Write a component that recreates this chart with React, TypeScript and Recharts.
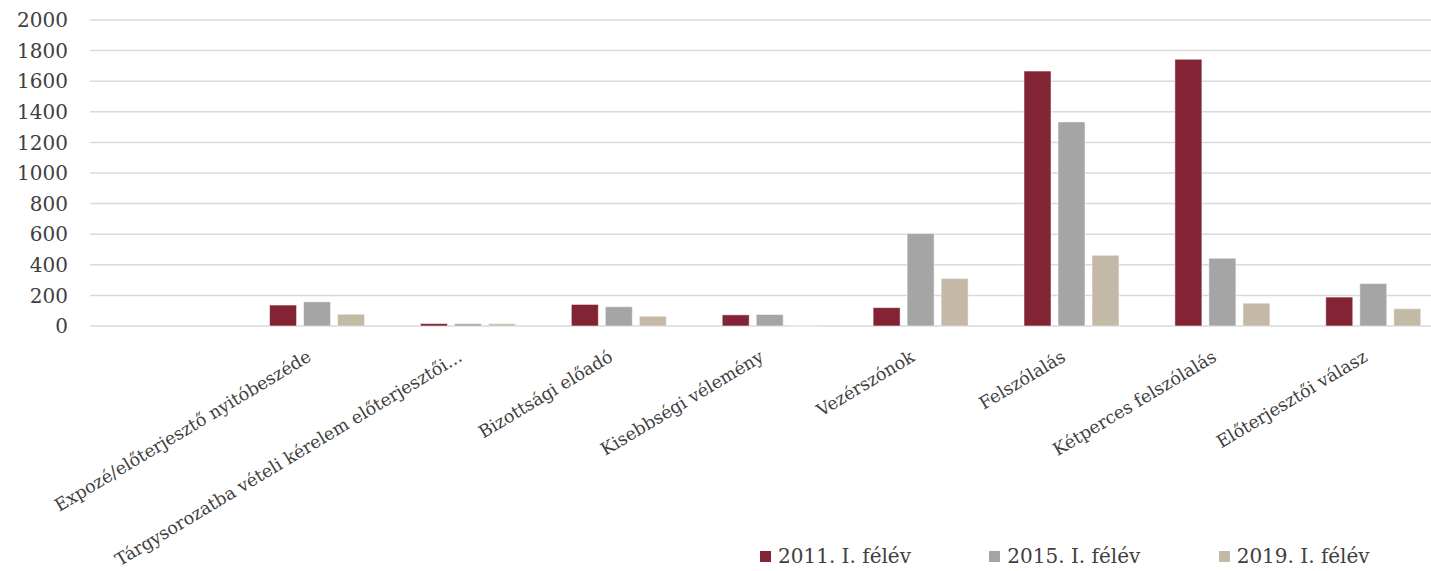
import { BarChart, Bar, XAxis, YAxis, CartesianGrid, Legend } from "recharts";

const categories = [
  "",
  "Expozé/előterjesztő nyitóbeszéde",
  "Tárgysorozatba vételi kérelem előterjesztői...",
  "Bizottsági előadó",
  "Kisebbségi vélemény",
  "Vezérszónok",
  "Felszólalás",
  "Kétperces felszólalás",
  "Előterjesztői válasz",
];
const s2011 = [null, 137, 16, 141, 73, 120, 1666, 1743, 189];
const s2015 = [null, 158, 15, 126, 75, 604, 1334, 443, 277];
const s2019 = [null, 77, 14, 64, 4, 310, 462, 149, 113];
const yTicks = [0, 200, 400, 600, 800, 1000, 1200, 1400, 1600, 1800, 2000];

const series = [
  { key: "a", name: "2011. I. félév", color: "#822433", values: s2011 },
  { key: "b", name: "2015. I. félév", color: "#a5a5a5", values: s2015 },
  { key: "c", name: "2019. I. félév", color: "#c4b8a7", values: s2019 },
];

const data = categories.map((cat, i) => ({
  cat,
  a: s2011[i],
  b: s2015[i],
  c: s2019[i],
}));

const FONT = "'DejaVu Serif', serif";
const TEXT = "#404040";

// rotated category labels, anchored at their end just under the axis
function AngledTick({ x, y, payload }: any) {
  const ax = x - 4;
  const ay = y + 34;
  return (
    <text
      x={ax}
      y={ay}
      transform={`rotate(-31, ${ax}, ${ay})`}
      textAnchor="end"
      fill={TEXT}
      fontSize={17.5}
      fontFamily={FONT}
    >
      {payload.value}
    </text>
  );
}

function LegendRow() {
  return (
    <div style={{ display: "flex", paddingLeft: 760, height: 30, alignItems: "center" }}>
      {series.map((s) => (
        <div key={s.key} style={{ width: 233, display: "flex", alignItems: "center" }}>
          <span style={{ width: 11, height: 11, background: s.color, marginRight: 7 }} />
          <span style={{ fontFamily: FONT, fontSize: 20, color: TEXT }}>{s.name}</span>
        </div>
      ))}
    </div>
  );
}

export default function App() {
  return (
    <div style={{ position: "fixed", left: 0, top: 0, width: 1431, height: 571, overflow: "hidden", background: "#fff" }}>
      <BarChart
        width={1448}
        height={571}
        data={data}
        margin={{ top: 20, right: 0, bottom: 0, left: 0 }}
        barCategoryGap="19%"
        barGap={7}
      >
        <CartesianGrid vertical={false} stroke="#d9d9d9" strokeWidth={1.5} />
        <XAxis
          dataKey="cat"
          axisLine={false}
          tickLine={false}
          tickSize={0}
          tickMargin={0}
          height={215}
          interval={0}
          tick={<AngledTick />}
        />
        <YAxis
          domain={[0, 2000]}
          ticks={yTicks}
          width={90}
          axisLine={false}
          tickLine={false}
          tickSize={0}
          tickMargin={22}
          tick={{ fontSize: 20, fill: TEXT, fontFamily: FONT }}
        />
        <Legend verticalAlign="bottom" height={30} content={() => <LegendRow />} />
        {series.map((s) => (
          <Bar
            key={s.key}
            dataKey={s.key}
            name={s.name}
            fill={s.color}
            stroke="rgba(255,255,255,0.5)"
            strokeWidth={1}
            isAnimationActive={false}
          />
        ))}
      </BarChart>
    </div>
  );
}
